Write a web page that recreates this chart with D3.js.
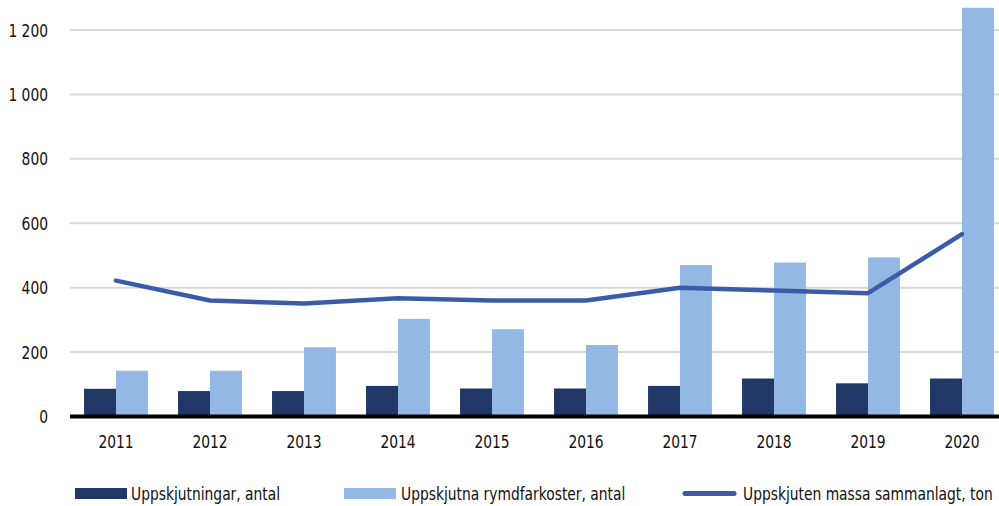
<!DOCTYPE html>
<html><head><meta charset="utf-8">
<script src="https://cdn.jsdelivr.net/npm/d3@7"></script>
<style>
html,body{margin:0;padding:0;background:#fff;}
text{font-family:"DejaVu Sans Condensed","DejaVu Sans",sans-serif;font-stretch:condensed;fill:#111;}
</style></head>
<body>
<svg id="chart" width="999" height="506"></svg>
<script>
const years = ["2011","2012","2013","2014","2015","2016","2017","2018","2019","2020"];
const launches = [86, 79, 79, 95, 87, 87, 95, 118, 103, 118];
const spacecraft = [142, 142, 215, 303, 271, 222, 470, 478, 494, 1269];
const massTon = [422, 360, 351, 367, 360, 360, 400, 391, 383, 566];
const yTicks = [0, 200, 400, 600, 800, 1000, 1200];
const seriesNames = ["Uppskjutningar, antal", "Uppskjutna rymdfarkoster, antal", "Uppskjuten massa sammanlagt, ton"];
const colors = ["#213766", "#93b8e3", "#3a5ca8"];

const svg = d3.select("#chart");
const x = d3.scaleBand().domain(years).range([69, 1009]).paddingInner(0.32).paddingOuter(0.16);
const xs = d3.scaleBand().domain([0,1]).range([0, x.bandwidth()]);
const y = d3.scaleLinear().domain([0, 1200]).range([416.5, 30]);
const fmt = d3.formatLocale({decimal:",", thousands:" ", grouping:[3], currency:["",""]}).format(",d");
const FS = "18.5px";

svg.append("g").selectAll("line").data(yTicks.filter(d=>d>0)).join("line")
  .attr("x1", 70).attr("x2", 999)
  .attr("y1", d=>y(d)).attr("y2", d=>y(d))
  .attr("stroke", "#d9d9d9").attr("stroke-width", 2);

svg.append("g").selectAll("text").data(yTicks).join("text")
  .attr("class","lbl")
  .attr("x", 48).attr("y", d=>y(d)).attr("dy", "0.36em")
  .attr("text-anchor", "end").style("font-size", FS)
  .text(d=>fmt(d));

const g = svg.append("g");
[launches, spacecraft].forEach((vals, si) => {
  g.append("g").selectAll("rect").data(vals).join("rect")
    .attr("x", (d,i)=>x(years[i]) + xs(si))
    .attr("width", xs.bandwidth())
    .attr("y", d=>y(d))
    .attr("height", d=>y(0)-y(d))
    .attr("fill", colors[si]);
});

svg.append("line").attr("x1", 70).attr("x2", 999).attr("y1", y(0)).attr("y2", y(0))
  .attr("stroke", "#000").attr("stroke-width", 4);

svg.append("g").selectAll("text").data(years).join("text")
  .attr("class","lbl")
  .attr("x", d=>x(d)+x.bandwidth()/2).attr("y", 448)
  .attr("text-anchor", "middle").style("font-size", FS)
  .text(d=>d);

const line = d3.line().x((d,i)=>x(years[i])+x.bandwidth()/2).y(d=>y(d));
svg.append("path").datum(massTon).attr("d", line)
  .attr("fill", "none").attr("stroke", colors[2]).attr("stroke-width", 4.5)
  .attr("stroke-linecap", "round").attr("stroke-linejoin", "round");

const lg = svg.append("g");
const legX = [75, 344, 683];
lg.append("rect").attr("x", legX[0]).attr("y", 488).attr("width", 52).attr("height", 11).attr("fill", colors[0]);
lg.append("rect").attr("x", legX[1]).attr("y", 488).attr("width", 52).attr("height", 11).attr("fill", colors[1]);
lg.append("line").attr("x1", legX[2]+2).attr("x2", legX[2]+51).attr("y1", 493.5).attr("y2", 493.5)
  .attr("stroke", colors[2]).attr("stroke-width", 5).attr("stroke-linecap", "round");
const legTexts = lg.selectAll("text.leg").data(seriesNames).join("text")
  .attr("class","lbl leg")
  .attr("x", (d,i)=>legX[i]+[56,57,60][i]).attr("y", 500).style("font-size", FS)
  .text(d=>d);

// condense text horizontally to mimic the narrow typeface of the original
const w2 = legTexts.nodes()[2].getComputedTextLength();
const k = Math.min(1, 250 / w2);
svg.selectAll("text.lbl").each(function(){
  const t = d3.select(this);
  const tx = +t.attr("x");
  t.attr("x", 0).attr("transform", `translate(${tx},0) scale(${k},1)`);
});
</script>
</body></html>
